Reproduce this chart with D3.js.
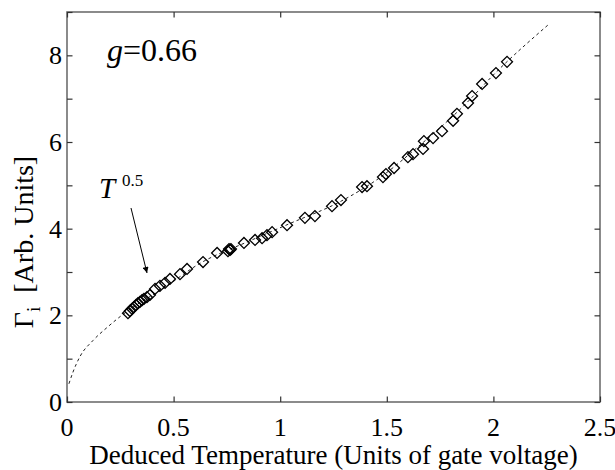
<!DOCTYPE html>
<html>
<head>
<meta charset="utf-8">
<script src="https://cdn.jsdelivr.net/npm/d3@7"></script>
<style>
  body { margin: 0; background: #fff; }
</style>
</head>
<body>
<svg id="chart" width="615" height="470"></svg>
<script>
// measured points: deduced temperature vs Gamma_i
var tempX = [0.286, 0.295, 0.305, 0.314, 0.324, 0.333, 0.342, 0.352, 0.361, 0.375,
             0.389, 0.413, 0.436, 0.460, 0.483, 0.530, 0.563, 0.638, 0.704, 0.755,
             0.765, 0.769, 0.760, 0.830, 0.882, 0.915, 0.938, 0.962, 1.032, 1.116,
             1.163, 1.243, 1.285, 1.384, 1.407, 1.482, 1.496, 1.534, 1.599, 1.623,
             1.670, 1.674, 1.717, 1.759, 1.811, 1.829, 1.881, 1.900, 1.947, 2.012, 2.064];
var gammaY = [2.05, 2.10, 2.15, 2.19, 2.24, 2.28, 2.31, 2.35, 2.38, 2.42,
              2.47, 2.61, 2.68, 2.75, 2.84, 2.95, 3.07, 3.23, 3.44, 3.48,
              3.51, 3.53, 3.53, 3.67, 3.74, 3.78, 3.85, 3.92, 4.08, 4.25,
              4.29, 4.52, 4.66, 4.96, 4.98, 5.19, 5.26, 5.40, 5.65, 5.72,
              5.84, 6.02, 6.09, 6.25, 6.49, 6.65, 6.90, 7.06, 7.34, 7.59, 7.85];

// dashed fit curve
var fitX = [0.009, 0.028, 0.061, 0.122, 0.188, 0.249, 0.319, 0.436, 0.624, 0.858,
            1.046, 1.280, 1.468, 1.656, 1.843, 2.031, 2.256];
var fitY = [0.42, 0.69, 1.05, 1.42, 1.72, 1.97, 2.22, 2.57, 3.20, 3.72,
            4.12, 4.62, 5.18, 5.93, 6.75, 7.70, 8.70];

var xTicks = [0, 0.5, 1, 1.5, 2, 2.5];
var yTicks = [0, 1, 2, 3, 4, 5, 6, 7, 8, 9];
var yLabels = [0, 2, 4, 6, 8];

var serif = "'Liberation Serif', 'Times New Roman', Times, serif";

var svg = d3.select("#chart");
var margin = {left: 67, right: 15, top: 12, bottom: 68};
var W = +svg.attr("width"), H = +svg.attr("height");

var x = d3.scaleLinear().domain([0, 2.5]).range([margin.left, W - margin.right]);
var y = d3.scaleLinear().domain([0, 9]).range([H - margin.bottom, margin.top]);

var tl = 5.5;

// fit line
var fit = fitX.map(function(d, i){ return [d, fitY[i]]; });
svg.append("path")
    .datum(fit)
    .attr("fill", "none")
    .attr("stroke", "#222")
    .attr("stroke-width", 1)
    .attr("stroke-dasharray", "3,3")
    .attr("d", d3.line()
        .curve(d3.curveMonotoneX)
        .x(function(d){ return x(d[0]); })
        .y(function(d){ return y(d[1]); }));

// data diamonds
var pts = tempX.map(function(d, i){ return [d, gammaY[i]]; });
svg.append("g").selectAll("path")
    .data(pts)
    .enter()
    .append("path")
      .attr("d", d3.symbol().type(d3.symbolSquare).size(60))
      .attr("transform", function(d){ return "translate(" + x(d[0]) + "," + y(d[1]) + ") rotate(45)"; })
      .attr("fill", "none")
      .attr("stroke", "#000")
      .attr("stroke-width", 1.3);

// box
svg.append("rect")
    .attr("x", x(0)).attr("y", y(9))
    .attr("width", x(2.5) - x(0)).attr("height", y(0) - y(9))
    .attr("fill", "none")
    .attr("stroke", "#6e6e6e")
    .attr("stroke-width", 1.6);

// axes with inward ticks
svg.append("g")
    .attr("transform", "translate(0," + y(0) + ")")
    .call(d3.axisBottom(x).tickValues(xTicks).tickSize(-tl).tickFormat(""))
    .call(function(g){ g.select(".domain").remove(); });
svg.append("g")
    .attr("transform", "translate(0," + y(9) + ")")
    .call(d3.axisTop(x).tickValues(xTicks).tickSize(-tl).tickFormat(""))
    .call(function(g){ g.select(".domain").remove(); });
svg.append("g")
    .attr("transform", "translate(" + x(0) + ",0)")
    .call(d3.axisLeft(y).tickValues(yTicks).tickSize(-tl).tickFormat(""))
    .call(function(g){ g.select(".domain").remove(); });
svg.append("g")
    .attr("transform", "translate(" + x(2.5) + ",0)")
    .call(d3.axisRight(y).tickValues(yTicks).tickSize(-tl).tickFormat(""))
    .call(function(g){ g.select(".domain").remove(); });
svg.selectAll(".tick line").attr("stroke", "#333").attr("stroke-width", 1.2);

// tick labels
svg.append("g").selectAll("text")
    .data(xTicks)
    .enter()
    .append("text")
      .attr("x", function(d){ return x(d); })
      .attr("y", 436)
      .attr("text-anchor", "middle")
      .attr("font-family", serif)
      .attr("font-size", 26)
      .text(function(d){ return d; });
svg.append("g").selectAll("text")
    .data(yLabels)
    .enter()
    .append("text")
      .attr("x", x(0) - 5)
      .attr("y", function(d){ return y(d) + 9; })
      .attr("text-anchor", "end")
      .attr("font-family", serif)
      .attr("font-size", 26)
      .text(function(d){ return d; });

// axis titles
svg.append("text")
    .attr("x", (x(0) + x(2.5)) / 2)
    .attr("y", 464)
    .attr("text-anchor", "middle")
    .attr("font-family", serif)
    .attr("font-size", 27)
    .text("Deduced Temperature (Units of gate voltage)");

var yt = svg.append("text")
    .attr("transform", "translate(33,242) rotate(-90)")
    .attr("text-anchor", "middle")
    .attr("font-family", serif)
    .attr("font-size", 28);
yt.append("tspan").text("\u0393");
yt.append("tspan").attr("dy", 7).attr("font-size", 19).text("i");
yt.append("tspan").attr("dy", -7).text("\u00a0 [Arb. Units]");

// annotations
var g1 = svg.append("text")
    .attr("x", 107).attr("y", 61)
    .attr("font-family", serif)
    .attr("font-size", 32);
g1.append("tspan").attr("font-style", "italic").text("g");
g1.append("tspan").text("=0.66");

var t1 = svg.append("text")
    .attr("x", 99).attr("y", 198)
    .attr("font-family", serif)
    .attr("font-size", 29);
t1.append("tspan").attr("font-style", "italic").text("T");
t1.append("tspan").attr("x", 122).attr("y", 186).attr("font-size", 17).text("0.5");

svg.append("defs").append("marker")
    .attr("id", "ah")
    .attr("viewBox", "0 0 10 10")
    .attr("refX", 10).attr("refY", 5)
    .attr("markerWidth", 8).attr("markerHeight", 6)
    .attr("markerUnits", "userSpaceOnUse")
    .attr("orient", "auto")
  .append("path")
    .attr("d", "M0,0 L10,5 L0,10 z")
    .attr("fill", "#000");

svg.append("line")
    .attr("x1", 131).attr("y1", 208)
    .attr("x2", 147).attr("y2", 273)
    .attr("stroke", "#000")
    .attr("stroke-width", 1)
    .attr("marker-end", "url(#ah)");
</script>
</body>
</html>
